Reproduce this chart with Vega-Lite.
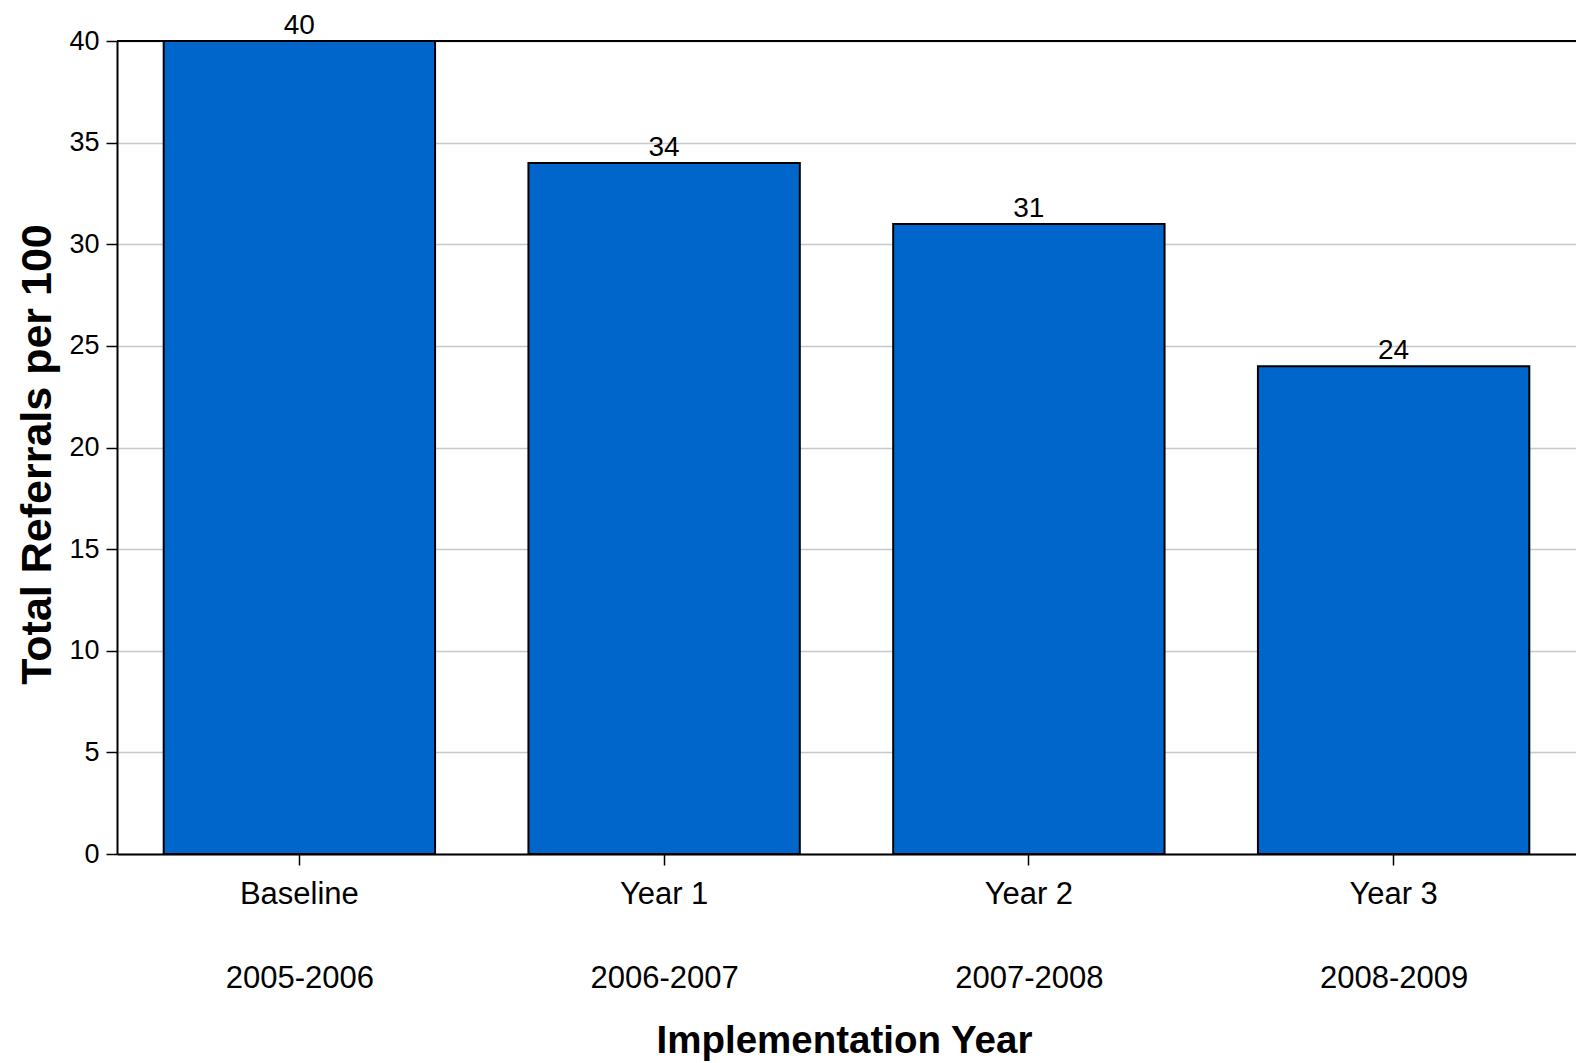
{
  "$schema": "https://vega.github.io/schema/vega-lite/v6.json",
  "width": 1459,
  "height": 813,
  "autosize": {"type": "none"},
  "padding": {"left": 117, "top": 41, "right": 0, "bottom": 209},
  "background": "white",
  "config": {"view": {"stroke": null}},
  "data": {
    "values": [
      {"period": "Baseline", "years": "2005-2006", "referrals": 40},
      {"period": "Year 1", "years": "2006-2007", "referrals": 34},
      {"period": "Year 2", "years": "2007-2008", "referrals": 31},
      {"period": "Year 3", "years": "2008-2009", "referrals": 24}
    ]
  },
  "layer": [
    {
      "mark": {"type": "bar", "fill": "#0066cc", "stroke": "#000000", "strokeWidth": 2},
      "encoding": {
        "x": {
          "field": "period", "type": "nominal", "sort": null,
          "scale": {"paddingInner": 0.256, "paddingOuter": 0.128},
          "axis": {
            "orient": "bottom", "labelAngle": 0, "grid": false,
            "domainColor": "#000000", "domainWidth": 2,
            "tickColor": "#000000", "tickWidth": 1.5, "tickSize": 11,
            "labelFont": "Liberation Sans", "labelFontSize": 31, "labelColor": "#000000",
            "labelBaseline": "alphabetic", "labelPadding": 38,
            "title": "Implementation Year",
            "titleFont": "Liberation Sans", "titleFontWeight": "bold", "titleFontSize": 38.5, "titleColor": "#000000",
            "titleX": 727, "titleY": 198, "titleAlign": "center", "titleBaseline": "alphabetic"
          }
        },
        "y": {
          "field": "referrals", "type": "quantitative",
          "scale": {"domain": [0, 40], "nice": false},
          "axis": {
            "values": [0, 5, 10, 15, 20, 25, 30, 35, 40],
            "grid": true, "gridColor": "#c8c8c8", "gridWidth": 1.5,
            "domainColor": "#000000", "domainWidth": 2,
            "tickColor": "#000000", "tickWidth": 1.5, "tickSize": 11,
            "labelFont": "Liberation Sans", "labelFontSize": 27, "labelColor": "#000000",
            "labelPadding": 7,
            "title": "Total Referrals per 100",
            "titleFont": "Liberation Sans", "titleFontWeight": "bold", "titleFontSize": 43, "titleColor": "#000000",
            "titleAngle": 270, "titleX": -67, "titleY": 413, "titleAlign": "center", "titleBaseline": "alphabetic"
          }
        }
      }
    },
    {
      "mark": {"type": "text", "baseline": "alphabetic", "dy": -7, "font": "Liberation Sans", "fontSize": 28, "color": "#000000"},
      "encoding": {
        "x": {
          "field": "years", "type": "nominal", "sort": null,
          "scale": {"paddingInner": 0.256, "paddingOuter": 0.128},
          "axis": {
            "orient": "bottom", "labelAngle": 0, "grid": false,
            "domain": false, "ticks": false, "tickSize": 0,
            "labelFont": "Liberation Sans", "labelFontSize": 31, "labelColor": "#000000",
            "labelBaseline": "alphabetic", "labelPadding": 133,
            "title": null
          }
        },
        "y": {"field": "referrals", "type": "quantitative"},
        "text": {"field": "referrals", "type": "quantitative"}
      }
    },
    {
      "mark": {"type": "rule", "color": "#000000", "strokeWidth": 2},
      "encoding": {"y": {"datum": 40}}
    }
  ],
  "resolve": {"scale": {"x": "independent"}}
}
